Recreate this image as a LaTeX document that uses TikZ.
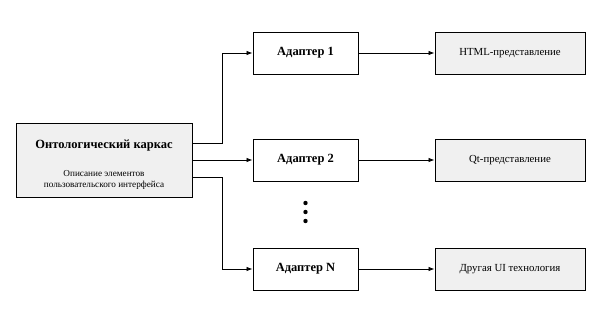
\documentclass[tikz,border=0pt]{standalone}
\usepackage{fontspec}
\setmainfont{Liberation Serif}
\usetikzlibrary{arrows.meta, positioning, calc}

\begin{document}
\begin{tikzpicture}[
      x=1pt, y=1pt,
      node distance=76pt,
      frame/.style={rectangle, draw, line width=1pt, fill=gray!12, minimum width=176pt, minimum height=74pt, align=center},
      adapter/.style={rectangle, draw, line width=1pt, fill=white, minimum width=105pt, minimum height=42pt, font=\fontsize{12.5}{14}\selectfont\bfseries},
      view/.style={rectangle, draw, line width=1pt, fill=gray!12, minimum width=150pt, minimum height=42pt, font=\fontsize{10.8}{12}\selectfont},
      arrow/.style={line width=0.8pt, -{Latex[length=6pt, width=4.5pt]}}
    ]
    \useasboundingbox (0,0) rectangle (603,325);

    % Nodes
    \node (core) [frame] at (104,165) {\rule{0pt}{18pt}{\fontsize{12.5}{15}\selectfont\bfseries Онтологический каркас}\\[16pt]
      {\fontsize{9.2}{10}\selectfont Описание элементов}\\[-1.5pt]{\fontsize{9.2}{10}\selectfont пользовательского интерфейса}};
    \node (ad1) [adapter] at (305.5,272) {Адаптер 1};
    \node (ad2) [adapter] at (305.5,165) {Адаптер 2};
    \node (adN) [adapter] at (305.5,56) {Адаптер N};
    \node (html) [view, right=of ad1] {HTML-представление};
    \node (qt) [view, right=of ad2] {Qt-представление};
    \node (other) [view, right=of adN] {Другая UI технология};

    % Dots
    \foreach \y [count=\i] in {122,113,104}
      \fill (305.5,\y) circle (2.2pt) coordinate (dot\i);

    % Connections
    \draw [arrow] ([yshift=17pt]core.east) -- ++(30,0) |- (ad1);
    \draw [arrow] (core) -- (ad2);
    \draw [arrow] ([yshift=-17pt]core.east) -- ++(30,0) |- (adN);
    \draw [arrow] (ad1) -- (html);
    \draw [arrow] (ad2) -- (qt);
    \draw [arrow] (adN) -- (other);

  \end{tikzpicture}
\end{document}
